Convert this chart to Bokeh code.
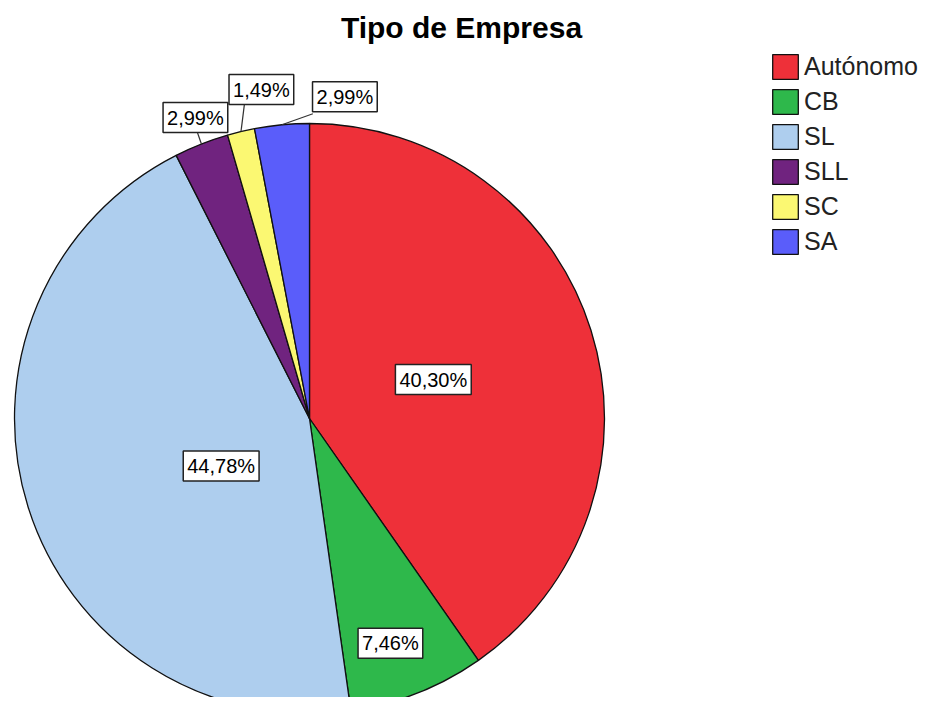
import numpy as np
from bokeh.plotting import figure
from bokeh.models import Range1d, Legend, LegendItem, ColumnDataSource
from bokeh.core.properties import value
from bokeh.embed import file_html
from bokeh.resources import INLINE

# ---- data ----
categories = ["Autónomo", "CB", "SL", "SLL", "SC", "SA"]
counts = [27, 5, 30, 2, 1, 2]
pct_labels = ["40,30%", "7,46%", "44,78%", "2,99%", "1,49%", "2,99%"]
colors = ["#EE3039", "#2EB84B", "#AECEEE", "#70237F", "#FBF872", "#5A5DFA"]
title_text = "Tipo de Empresa"

# ---- geometry (reference pixel frame, y up) ----
H_REF = 713
cx, cy, R = 309.0, H_REF - 418.0, 295.0

vals = np.array(counts, dtype=float)
frac = vals / vals.sum()
cum_end = np.cumsum(frac) * 2 * np.pi
cum_start = cum_end - frac * 2 * np.pi
mid = (cum_start + cum_end) / 2.0

src = ColumnDataSource(dict(
    cat=categories,
    start=np.pi / 2 - cum_end,
    end=np.pi / 2 - cum_start,
    color=colors,
))

p = figure(width=922, height=697, output_backend="svg", toolbar_location=None,
           x_range=Range1d(0, 922), y_range=Range1d(H_REF - 697, H_REF),
           min_border=0, match_aspect=False)
p.axis.visible = False
p.grid.visible = False
p.outline_line_color = None
p.background_fill_color = "white"
p.border_fill_color = "white"

wr = p.wedge(x=cx, y=cy, radius=R, start_angle="start", end_angle="end",
             direction="anticlock", fill_color="color", line_color="#111111",
             line_width=1.3, source=src)

# inside labels (slices 0..2)
in_frac = [0.44, 0.81, 0.34]
in_nudge = np.radians([0.0, 1.7, -10.8])
lx, ly, lt = [], [], []
for i in range(3):
    a = mid[i] + in_nudge[i]
    lx.append(cx + R * in_frac[i] * np.sin(a))
    ly.append(cy + R * in_frac[i] * np.cos(a))
    lt.append(pct_labels[i])

# outside labels (slices 3..5) with leader lines
box_off = [(-6, 26.5), (20.4, 42), (63, 28)]
line_off = [(-4, 11.5), (3.4, 27), (31, 11)]
x0, y0, x1, y1 = [], [], [], []
for k, i in enumerate(range(3, 6)):
    ex = cx + R * np.sin(mid[i])
    ey = cy + R * np.cos(mid[i])
    x0.append(ex); y0.append(ey)
    x1.append(ex + line_off[k][0]); y1.append(ey + line_off[k][1])
    lx.append(ex + box_off[k][0]); ly.append(ey + box_off[k][1])
    lt.append(pct_labels[i])

p.segment(x0=x0, y0=y0, x1=x1, y1=y1, line_color="#333333", line_width=1.2)

p.text(x=lx, y=ly, text=lt, text_align="center", text_baseline="middle",
       text_font=value("Liberation Sans"), text_font_size="20px", text_color="black",
       background_fill_color="white", border_line_color="#222222",
       border_line_width=1.5, padding=4)

# title
p.text(x=[461], y=[H_REF - 27], text=[title_text], text_align="center",
       text_baseline="alphabetic", text_font=value("Liberation Sans"),
       text_font_size="30px", text_font_style="bold", text_color="black")

legend = Legend(items=[LegendItem(label=c, renderers=[wr], index=i)
                       for i, c in enumerate(categories)],
                location=(769, 440), glyph_width=32, glyph_height=31,
                label_height=31, spacing=4,
                label_standoff=3, label_text_font_size="25px",
                label_text_color="#222222",
                label_text_font="Liberation Sans", border_line_color=None,
                background_fill_alpha=0, padding=0, margin=0)
p.add_layout(legend)

open("out.html", "w").write(file_html(p, INLINE))
